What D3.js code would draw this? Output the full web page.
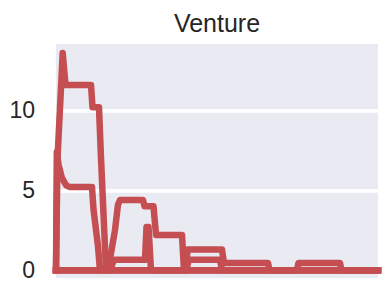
<!DOCTYPE html>
<html>
<head>
<meta charset="utf-8">
<script src="https://cdn.jsdelivr.net/npm/d3@7"></script>
<style>
  body { margin: 0; background: #ffffff; }
  text { font-family: "Liberation Sans", Arial, sans-serif; fill: #262626; }
</style>
</head>
<body>
<div class="chart"></div>
<script>
// series (x in % of the run, y = value)
const xPeak = [0, 0.19, 0.47, 2.08, 2.95, 10.87, 11.34, 13.35, 13.98, 15.53, 100];
const yPeak = [0, 3, 7, 13.6, 11.6, 11.6, 10.2, 10.2, 7, 0, 0];

const xFive = [0, 0.09, 0.25, 0.8, 1.8, 3.2, 4.35, 11.18, 11.65, 13.04, 13.66, 100];
const yFive = [0, 2.5, 7.4, 6.6, 5.8, 5.3, 5.2, 5.2, 3.8, 1.5, 0, 0];

const xMid = [0, 16.15, 18.32, 19.25, 19.88, 27.02, 27.48, 30.28, 31.06, 39.13, 39.75, 100];
const yMid = [0, 0, 2.5, 4.1, 4.4, 4.4, 4.0, 4.0, 2.2, 2.2, 0, 0];

const xLow = [0, 16.77, 18.01, 27.64, 28.11, 28.73, 29.5, 40.37, 40.84, 51.55, 52.17, 65.84, 66.3, 100];
const yLow = [0, 0, 0.65, 0.65, 2.7, 2.7, 0, 0, 1.3, 1.3, 0.45, 0.45, 0, 0];

const xTail = [0, 40.37, 41.3, 50.93, 51.55, 74.84, 75.3, 88.2, 88.66, 100];
const yTail = [0, 0, 0.65, 0.65, 0, 0, 0.45, 0.45, 0, 0];

const yTicks = [0, 5, 10];
const title = 'Venture';

const w = 388;
const h = 282;
const padL = 56, padR = 378, padT = 44, padB = 278;

const xScale = d3.scaleLinear().domain([0, 100]).range([padL, padR]);
const yScale = d3.scaleLinear().domain([-0.49, 14.16]).range([padB, padT]);

const svg = d3.select('div.chart')
  .append('svg')
  .attr('width', w)
  .attr('height', h);

svg.append('rect')
  .attr('x', padL)
  .attr('y', padT)
  .attr('width', padR - padL)
  .attr('height', padB - padT)
  .attr('fill', '#EAEAF2');

const yAxis = d3.axisLeft(yScale)
  .tickValues(yTicks)
  .tickSize(-(padR - padL))
  .tickPadding(21)
  .tickFormat(d3.format('d'));

const gy = svg.append('g')
  .attr('transform', 'translate(' + padL + ',0)')
  .call(yAxis);
gy.select('.domain').remove();
gy.selectAll('.tick line')
  .attr('stroke', '#ffffff')
  .attr('stroke-width', 3.8);
gy.selectAll('.tick text')
  .attr('font-size', 23)
  .attr('fill', '#262626')
  .attr('font-family', '"Liberation Sans", Arial, sans-serif');

const series = [
  [xPeak, yPeak],
  [xFive, yFive],
  [xMid, yMid],
  [xLow, yLow],
  [xTail, yTail]
];

const line = d3.line()
  .x((d) => xScale(d[0]))
  .y((d) => yScale(d[1]));

svg.selectAll('path.run')
  .data(series)
  .enter()
  .append('path')
  .attr('class', 'run')
  .attr('d', (s) => line(s[0].map((x, i) => [x, s[1][i]])))
  .attr('fill', 'none')
  .attr('stroke', '#C44E52')
  .attr('stroke-width', 6.5)
  .attr('stroke-linejoin', 'round')
  .attr('stroke-linecap', 'square');

svg.append('text')
  .text(title)
  .attr('x', (padL + padR) / 2)
  .attr('y', 32)
  .attr('text-anchor', 'middle')
  .attr('font-size', 25);
</script>
</body>
</html>
